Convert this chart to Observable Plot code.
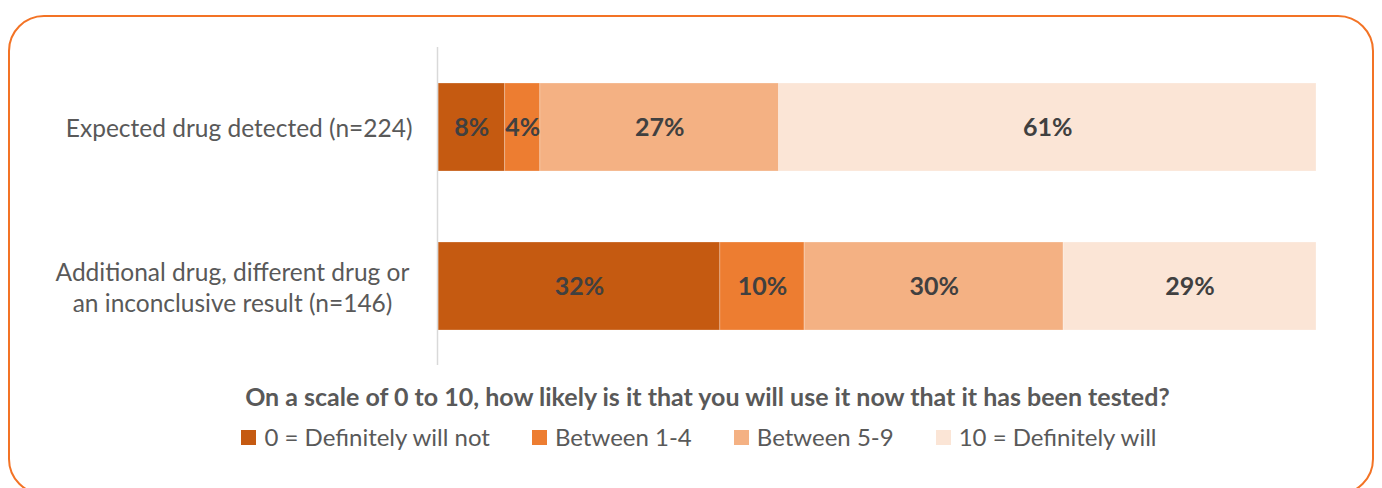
<!DOCTYPE html>
<html>
<head>
<meta charset="utf-8">
<script src="https://cdn.jsdelivr.net/npm/d3@7"></script>
<script src="https://cdn.jsdelivr.net/npm/@observablehq/plot@0.6"></script>
<style>
  html, body { margin: 0; padding: 0; background: #fff; }
  #page { position: relative; width: 1382px; height: 488px; overflow: hidden; font-family: Lato, "Open Sans", sans-serif; }
  #frame { position: absolute; left: 8px; top: 15px; width: 1366px; height: 480px; border: 2.5px solid #F37325; border-radius: 36px; box-sizing: border-box; }
  #chart { position: absolute; left: 0; top: 0; }
  #below { position: absolute; left: 0; top: 381px; width: 1382px; color: #595959; }
  #title { text-align: center; font-weight: bold; font-size: 25px; line-height: 30px; padding-left: 33px; white-space: nowrap; }
  #legend { display: flex; justify-content: center; margin-top: 11px; font-size: 24px; line-height: 30px; white-space: nowrap; padding-left: 16px; }
  .item { display: flex; align-items: center; margin: 0 21px; }
  .sw { width: 15px; height: 15px; margin-right: 8px; }
</style>
</head>
<body>
<div id="page">
  <div id="frame"></div>
  <div id="chart"></div>
  <div id="below">
    <div id="title"></div>
    <div id="legend"></div>
  </div>
</div>
<script>
const categories = [
  "Expected drug detected (n=224)",
  "Additional drug, different drug or\nan inconclusive result (n=146)"
];
const responses = ["0 = Definitely will not", "Between 1-4", "Between 5-9", "10 = Definitely will"];
const colors = ["#C55A11", "#ED7D31", "#F4B183", "#FBE5D6"];
const expectedValues = [7.6, 4.0, 27.2, 61.2];
const additionalValues = [32.1, 9.6, 29.5, 28.8];
const questionTitle = "On a scale of 0 to 10, how likely is it that you will use it now that it has been tested?";

const data = [];
[expectedValues, additionalValues].forEach((vals, i) => {
  vals.forEach((v, j) => data.push({category: categories[i], response: responses[j], value: v}));
});

const axisFont = {fontSize: 24.5, fill: "#595959", lineHeight: 1.27, tickSize: 0, label: null};

const chart = Plot.plot({
  width: 1382,
  height: 380,
  marginLeft: 438,
  marginRight: 66,
  marginTop: 47,
  marginBottom: 15,
  style: {fontFamily: "Lato, 'Open Sans', sans-serif", color: "#595959", background: "transparent"},
  x: {domain: [0, 100], axis: null},
  y: {domain: categories, paddingInner: 0.447, paddingOuter: 0.2235, label: null},
  color: {domain: responses, range: colors},
  marks: [
    Plot.barX(data, Plot.stackX({x: "value", y: "category", fill: "response", stroke: "#ffffff", strokeOpacity: 0.35, strokeWidth: 0.75})),
    Plot.text(data, Plot.stackX({x: "value", y: "category", text: d => Math.round(d.value) + "%", fill: "#404040", fontWeight: "bold", fontSize: 25})),
    Plot.ruleX([0], {stroke: "#D9D9D9", strokeWidth: 1.5, dx: -1}),
    Plot.axisY([categories[0]], {...axisFont, tickPadding: 26, textAnchor: "end"}),
    Plot.axisY([categories[1]], {...axisFont, tickPadding: 206, textAnchor: "middle"})
  ]
});
document.getElementById("chart").appendChild(chart);

document.getElementById("title").textContent = questionTitle;
const legend = document.getElementById("legend");
responses.forEach((r, i) => {
  const item = document.createElement("div");
  item.className = "item";
  const sw = document.createElement("span");
  sw.className = "sw";
  sw.style.background = colors[i];
  const t = document.createElement("span");
  t.textContent = r;
  item.appendChild(sw);
  item.appendChild(t);
  legend.appendChild(item);
});
</script>
</body>
</html>
